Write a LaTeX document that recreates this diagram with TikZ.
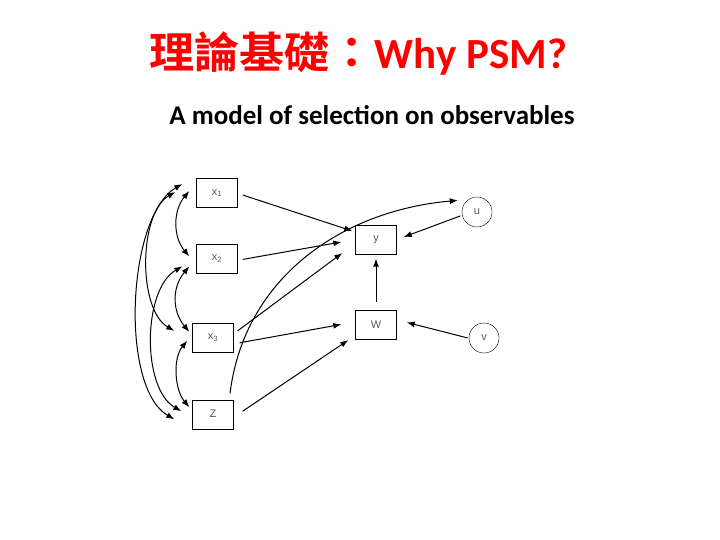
\documentclass[tikz,border=0pt]{standalone}
\usepackage{fontspec}
\setmainfont{Carlito}
\newfontfamily\cjkfont{Noto Sans CJK TC}[BoldFont={Noto Sans CJK TC Bold}]
\newfontfamily\lblfont{Liberation Sans}
\usetikzlibrary{positioning,arrows.meta}
\tikzset{obs/.style={draw,minimum width=41pt,minimum height=29pt,inner sep=0pt,font=\lblfont\fontsize{11}{13}\selectfont,text=black!65}}
\tikzset{lat/.style={draw,circle,minimum size=30pt,inner sep=0pt,font=\lblfont\fontsize{11}{13}\selectfont,text=black!65}}
\tikzset{link/.style={->,line width=1pt},cov/.style={<->,line width=1pt}}

\begin{document}
\begin{tikzpicture}[x=1pt,y=1pt,>={Latex[length=8pt,width=6pt]}]
\useasboundingbox (0,0) rectangle (720,-540);
\node[anchor=base,text=red,font=\fontsize{43}{50}\selectfont\bfseries] (ttl) at (358,-69) {{\cjkfont\scalebox{1.05}[1]{理論基礎：}}Why PSM?};
\node[anchor=base,font=\fontsize{27}{32}\selectfont\bfseries] (sub) at (372,-125) {A model of selection on observables};
\node[obs] (x1) at (217,-193) {x\textsubscript{1}};
\node[obs,below=36pt of x1] (x2) {x\textsubscript{2}};
\node[obs,below=50pt of x2,xshift=-4pt] (x3) {x\textsubscript{3}};
\node[obs,below=47pt of x3] (Z) {Z};
\node[obs] (y) at (376,-240) {y};
\node[obs,below=55pt of y] (W) {W};
\node[lat] (u) at (477,-212) {u};
\node[lat] (v) at (484,-338) {v};
% paths into y and W
\draw[link] ([xshift=5pt,yshift=-2pt]x1.east) -- ([xshift=-3pt,yshift=9pt]y.west);
\draw[link] ([xshift=5pt,yshift=-1pt]x2.east) -- ([xshift=-14pt,yshift=-2pt]y.west);
\draw[link] ([xshift=4pt,yshift=7pt]x3.east) -- ([xshift=-13pt,yshift=-13pt]y.west);
\draw[link] ([xshift=6pt,yshift=-5pt]x3.east) -- ([xshift=-14pt]W.west);
\draw[link] ([xshift=9pt,yshift=3pt]Z.east) -- ([xshift=-7pt,yshift=-1pt]W.south west);
\draw[link] ([yshift=8pt]W.north) -- ([yshift=-4pt]y.south);
\draw[link] ([xshift=-2pt]u.195) -- ([xshift=7pt,yshift=3pt]y.east);
\draw[link] ([xshift=-1pt]v.west) -- ([xshift=10pt,yshift=2pt]W.east);
\draw[link] ([xshift=17pt,yshift=6pt]Z.north) to[out=83,in=185] ([xshift=-6pt,yshift=4pt]u.150);
% covariances
\draw[cov] ([xshift=-7pt,yshift=2pt]x1.west) to[out=230,in=130,looseness=1] ([xshift=-7pt,yshift=2pt]x2.west);
\draw[cov] ([xshift=-7pt,yshift=-8pt]x2.west) to[out=230,in=130,looseness=1.06] ([xshift=-3pt,yshift=6pt]x3.west);
\draw[cov] ([xshift=-5pt,yshift=-3pt]x3.west) to[out=230,in=130,looseness=0.88] ([xshift=-3pt,yshift=7pt]Z.west);
\draw[cov] ([xshift=-21pt,yshift=1pt]x1.west) to[out=210,in=150,looseness=0.78] ([xshift=-18pt,yshift=7pt]x3.west);
\draw[cov] ([xshift=-14pt,yshift=-8pt]x2.west) to[out=210,in=150,looseness=0.81] ([xshift=-11pt,yshift=3pt]Z.west);
\draw[cov] ([xshift=-14pt,yshift=9pt]x1.west) to[out=210,in=150,looseness=0.69] ([xshift=-18pt,yshift=-5pt]Z.west);
\end{tikzpicture}
\end{document}
